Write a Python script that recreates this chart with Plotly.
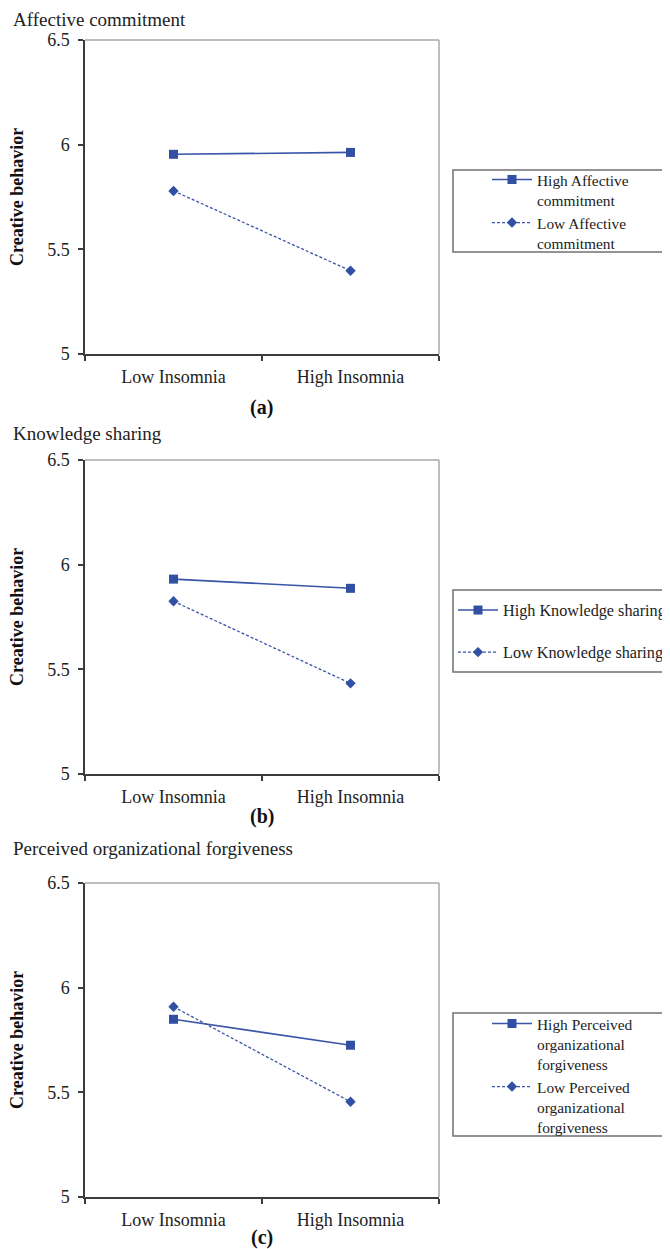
import plotly.graph_objects as go

# ---------------- data ----------------
categories = ["Low Insomnia", "High Insomnia"]
panel_titles = ["Affective commitment", "Knowledge sharing", "Perceived organizational forgiveness"]
panel_labels = ["(a)", "(b)", "(c)"]
high_names = ["High Affective<br>commitment", "High Knowledge sharing",
              "High Perceived<br>organizational<br>forgiveness"]
low_names = ["Low Affective<br>commitment", "Low Knowledge sharing",
             "Low Perceived<br>organizational<br>forgiveness"]
high_values_a = [5.954, 5.963]
low_values_a = [5.779, 5.398]
high_values_b = [5.931, 5.887]
low_values_b = [5.825, 5.433]
high_values_c = [5.849, 5.725]
low_values_c = [5.909, 5.455]
y_tick_values = [5, 5.5, 6, 6.5]
y_tick_labels = ["5", "5.5", "6", "6.5"]
y_axis_title = "Creative behavior"

high_series = [high_values_a, high_values_b, high_values_c]
low_series = [low_values_a, low_values_b, low_values_c]

# ---------------- layout helpers ----------------
W, H = 670, 1249
OFF = 8  # page body margin
FONT = "Liberation Serif"
BLUE = "#3a55a8"
MARK = "#3150a3"


def px_x(x):
    return (x - OFF) / W


def px_y(y):
    return 1 - (y - OFF) / H


left, right = 85, 439
tops = [40, 460, 883]
bottoms = [354, 774, 1197]
title_y = [19, 433, 848]
label_y = [407, 817, 1237]
legend_boxes = [(453, 170, 700, 252), (453, 590, 700, 672), (453, 1013, 700, 1136)]
legend_pos = [(487, 163), (453, 593), (487, 1007)]
legend_font = [15.4, 16.2, 15.4]

fig = go.Figure()
layout = dict(
    width=W, height=H,
    margin=dict(l=0, r=0, t=0, b=0, autoexpand=False),
    paper_bgcolor="white", plot_bgcolor="white",
    font=dict(family=FONT, size=18, color="#222222"),
    showlegend=True,
    shapes=[], annotations=[],
)

for i in range(3):
    sfx = "" if i == 0 else str(i + 1)
    xa, ya = "x" + sfx, "y" + sfx
    leg = "legend" + sfx
    fig.add_trace(go.Scatter(
        x=categories, y=high_series[i], name=high_names[i],
        mode="lines+markers", xaxis=xa, yaxis=ya, legend=leg,
        legendgroup="h" + sfx,
        line=dict(color=BLUE, width=1.6),
        marker=dict(symbol="square", size=9, color=MARK),
    ))
    fig.add_trace(go.Scatter(
        x=categories, y=low_series[i], name=low_names[i],
        mode="lines+markers", xaxis=xa, yaxis=ya, legend=leg,
        legendgroup="l" + sfx,
        line=dict(color=BLUE, width=1.3, dash="3px,2px"),
        marker=dict(symbol="diamond", size=8, color=MARK),
    ))
    layout["xaxis" + sfx] = dict(
        domain=[px_x(left), px_x(right)], anchor=ya,
        type="category", range=[-0.5, 1.5],
        showline=True, linecolor="#3c3c3c", linewidth=1.5,
        ticks="outside", tickson="boundaries", ticklen=5, tickcolor="#3c3c3c", tickwidth=1.5,
        ticklabelstandoff=6,
        showgrid=False, zeroline=False, fixedrange=True,
        tickfont=dict(family=FONT, size=18, color="#222222"),
    )
    layout["yaxis" + sfx] = dict(
        domain=[px_y(bottoms[i]), px_y(tops[i])], anchor=xa,
        range=[5, 6.5], tickvals=y_tick_values, ticktext=y_tick_labels,
        showline=True, linecolor="#3c3c3c", linewidth=1.5,
        ticks="outside", ticklen=5, tickcolor="#3c3c3c", tickwidth=1.5,
        ticklabelstandoff=5,
        showgrid=False, zeroline=False, fixedrange=True,
        tickfont=dict(family=FONT, size=18, color="#222222"),
    )
    lx, ly = legend_pos[i]
    layout[leg] = dict(
        x=px_x(lx), y=px_y(ly), xanchor="left", yanchor="top",
        bgcolor="rgba(0,0,0,0)", borderwidth=0,
        font=dict(family=FONT, size=legend_font[i], color="#222222"),
        traceorder="grouped", tracegroupgap=(18 if i == 1 else 0),
        valign="top", itemwidth=40,
    )
    # light top/right frame
    layout["shapes"].append(dict(type="line", xref="paper", yref="paper",
                                 x0=px_x(left), x1=px_x(right), y0=px_y(tops[i]), y1=px_y(tops[i]),
                                 line=dict(color="#a8a8a8", width=1.5)))
    layout["shapes"].append(dict(type="line", xref="paper", yref="paper",
                                 x0=px_x(right), x1=px_x(right), y0=px_y(tops[i]), y1=px_y(bottoms[i]),
                                 line=dict(color="#a8a8a8", width=1.5)))
    # legend box
    bx0, by0, bx1, by1 = legend_boxes[i]
    layout["shapes"].append(dict(type="rect", xref="paper", yref="paper",
                                 x0=px_x(bx0), x1=px_x(bx1), y0=px_y(by1), y1=px_y(by0),
                                 line=dict(color="#707070", width=1.5)))
    # texts
    layout["annotations"].append(dict(
        text=panel_titles[i], xref="paper", yref="paper",
        x=px_x(12), y=px_y(title_y[i]), xanchor="left", yanchor="middle",
        showarrow=False, borderpad=0, font=dict(family=FONT, size=19, color="#222222")))
    layout["annotations"].append(dict(
        text="<b>" + panel_labels[i] + "</b>", xref="paper", yref="paper",
        x=px_x(262), y=px_y(label_y[i]), xanchor="center", yanchor="middle",
        showarrow=False, font=dict(family=FONT, size=20, color="#111111")))
    layout["annotations"].append(dict(
        text="<b>" + y_axis_title + "</b>", xref="paper", yref="paper",
        x=px_x(17), y=px_y((tops[i] + bottoms[i]) / 2),
        xanchor="center", yanchor="middle", textangle=-90,
        showarrow=False, font=dict(family=FONT, size=18, color="#111111")))

fig.update_layout(**layout)
fig.write_html("out.html")
